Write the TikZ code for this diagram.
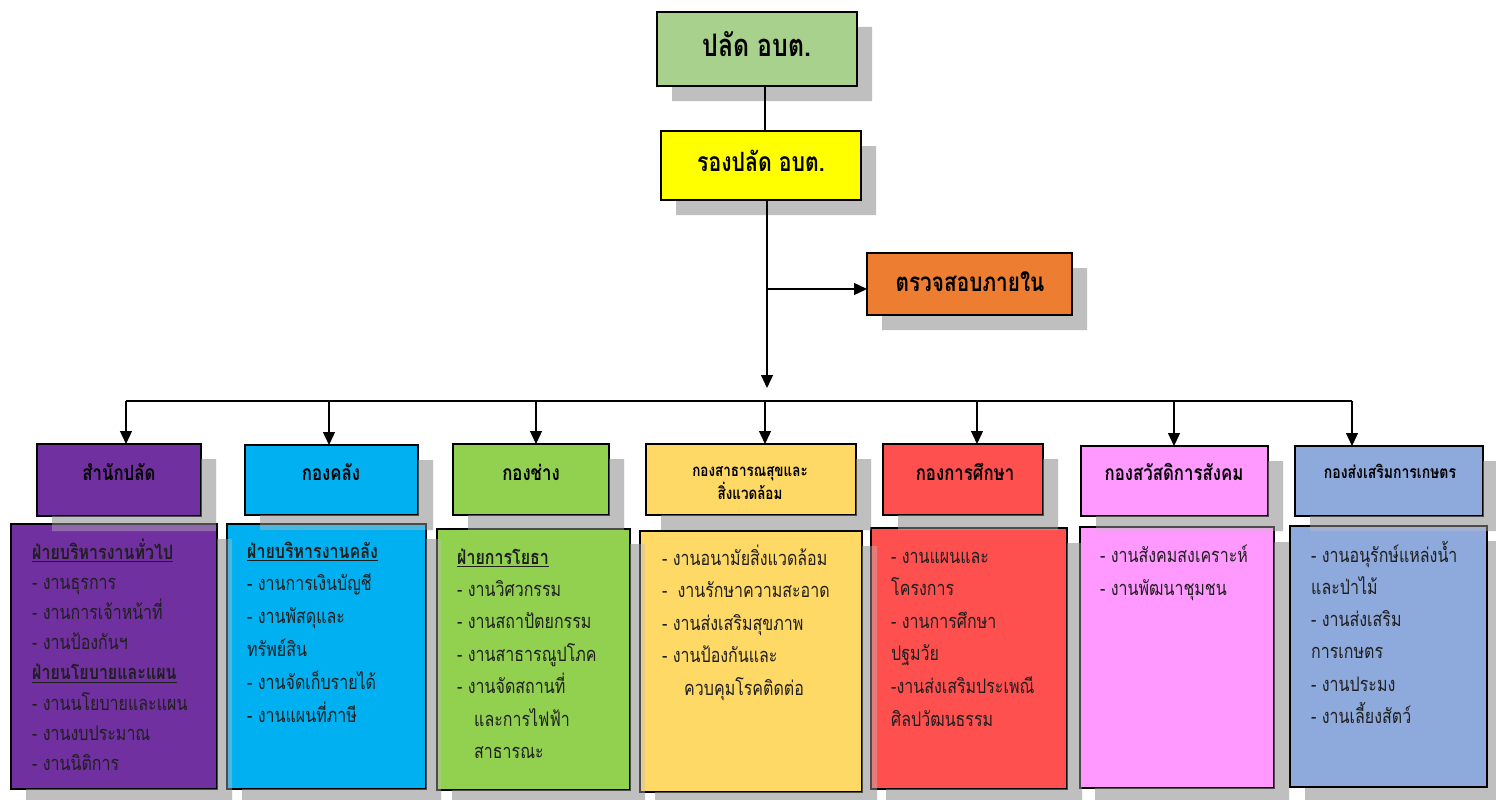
\documentclass[tikz,border=0pt]{standalone}
\usepackage{fontspec}
\setmainfont[Script=Thai, FakeStretch=0.8]{Loma}
\usetikzlibrary{arrows.meta,calc}
\definecolor{cTop}{HTML}{A9D18E}
\definecolor{cDep}{HTML}{FFFF00}
\definecolor{cAud}{HTML}{ED7D31}
\definecolor{cPur}{HTML}{7030A0}
\definecolor{cCya}{HTML}{00B0F0}
\definecolor{cGrn}{HTML}{92D050}
\definecolor{cGld}{HTML}{FFD966}
\definecolor{cRed}{HTML}{FF5050}
\definecolor{cPnk}{HTML}{FF99FF}
\definecolor{cBlu}{HTML}{8EA9DB}
\definecolor{shadowc}{HTML}{BFBFBF}
\pgfdeclarelayer{bg}\pgfdeclarelayer{fg}\pgfsetlayers{bg,main,fg}
\newcommand\myul[1]{{\setbox0\hbox{#1}\rlap{\rule[-3pt]{\wd0}{1.3pt}}\box0}}
\newcommand\dropL[2][]{\fill[shadowc,#1] ([shift={(0,15)}]#2.north east) -- ([shift={(15,15)}]#2.north east) -- ([shift={(15,15)}]#2.south east) -- ([shift={(15,15)}]#2.south west) -- ([shift={(15,0)}]#2.south west) -- (#2.south east) -- cycle;}
\newcommand\bodylines[5]{\foreach \t [count=\i from 0] in {#5} {\node[btext] (#1l\i) at (#2, #3+#4*\i) {\t};}}
\begin{document}
\begin{tikzpicture}[x=1pt,y=-1pt,
 box/.style={rectangle, draw=black, line width=2.4pt, anchor=north west, inner sep=0pt, outer sep=0pt},
 arr/.style={line width=1.3pt, -{Triangle[length=13pt,width=12pt]}},
 ln/.style={line width=1.3pt},
 btext/.style={anchor=base west, inner sep=0pt, font=\fontsize{20}{24}\selectfont, text=black!88},
 htext/.style={anchor=base, inner sep=0pt, font=\bfseries\fontsize{21}{25}\selectfont},
]
\useasboundingbox (0,0) rectangle (1496,800);
% top boxes
\node[box, fill=cTop, minimum width=200, minimum height=74] (top) at (657,12) {};
\node[box, fill=cDep, minimum width=200, minimum height=69] (deputy) at (661,131) {};
\node[box, fill=cAud, minimum width=205, minimum height=62] (audit) at (867,253) {};
% headers
\node[box, fill=cPur, minimum width=164, minimum height=72] (h1) at (37,444) {};
\node[box, fill=cCya, minimum width=173, minimum height=70] (h2) at (245,445) {};
\node[box, fill=cGrn, minimum width=156, minimum height=71] (h3) at (453,444) {};
\node[box, fill=cGld, minimum width=210, minimum height=71] (h4) at (646,444) {};
\node[box, fill=cRed, minimum width=160, minimum height=71] (h5) at (883,444) {};
\node[box, fill=cPnk, minimum width=187, minimum height=70] (h6) at (1081,446) {};
\node[box, fill=cBlu, minimum width=188, minimum height=70] (h7) at (1295,446) {};
% bodies
\node[box, fill=cPur, minimum width=206, minimum height=265] (b1) at (11,524) {};
\node[box, fill=cCya, minimum width=199, minimum height=265] (b2) at (227,524) {};
\node[box, fill=cGrn, minimum width=193, minimum height=261] (b3) at (437,529) {};
\node[box, fill=cGld, minimum width=222, minimum height=261] (b4) at (640,531) {};
\node[box, fill=cRed, minimum width=196, minimum height=261] (b5) at (871,528) {};
\node[box, fill=cPnk, minimum width=194, minimum height=261] (b6) at (1080,527) {};
\node[box, fill=cBlu, minimum width=197, minimum height=261] (b7) at (1290,526) {};
% shadows
\begin{pgfonlayer}{bg}
\foreach \n in {top,deputy,audit,h1,h2,h3,h4,h5,h6,h7,b1,b2,b3,b4,b5,b6,b7} {\dropL{\n}}
\end{pgfonlayer}
\begin{pgfonlayer}{fg}
\foreach \n in {h1,h2,h3,h4,h5,h6,h7,b1,b2,b3,b4,b5,b6} {\dropL[fill opacity=0.4]{\n}}
\end{pgfonlayer}
% top texts
\node[htext, font=\bfseries\fontsize{31}{36}\selectfont] (topt) at (757,57) {ปลัด อบต.};
\node[htext, font=\bfseries\fontsize{26.5}{31}\selectfont] (deputyt) at (761,171) {รองปลัด อบต.};
\node[htext, font=\bfseries\fontsize{26}{31}\selectfont] (auditt) at (970,291) {ตรวจสอบภายใน};
% header texts
\node[htext] (h1t) at (119,480) {สำนักปลัด};
\node[htext] (h2t) at (331,480) {กองคลัง};
\node[htext] (h3t) at (531,480) {กองช่าง};
\node[htext, font=\bfseries\fontsize{16.8}{20}\selectfont] (h4ta) at (750,476) {กองสาธารณสุขและ};
\node[htext, font=\bfseries\fontsize{16.8}{20}\selectfont] (h4tb) at (750,499) {สิ่งแวดล้อม};
\node[htext] (h5t) at (965,480) {กองการศึกษา};
\node[htext] (h6t) at (1174,480) {กองสวัสดิการสังคม};
\node[htext, font=\bfseries\fontsize{17.5}{21}\selectfont] (h7t) at (1390,478) {กองส่งเสริมการเกษตร};
% body texts
\bodylines{b1}{32}{559}{30.2}{{\bfseries\myul{ฝ่ายบริหารงานทั่วไป}}, - งานธุรการ, - งานการเจ้าหน้าที่, - งานป้องกันฯ, {\bfseries\myul{ฝ่ายนโยบายและแผน}}, - งานนโยบายและแผน, - งานงบประมาณ, - งานนิติการ}
\bodylines{b2}{247}{558}{32.8}{{\bfseries\myul{ฝ่ายบริหารงานคลัง}}, - งานการเงินบัญชี, - งานพัสดุและ, ทรัพย์สิน, - งานจัดเก็บรายได้, - งานแผนที่ภาษี}
\bodylines{b3}{457}{564}{32.4}{{\bfseries\myul{ฝ่ายการโยธา}}, - งานวิศวกรรม, - งานสถาปัตยกรรม, - งานสาธารณูปโภค, - งานจัดสถานที่, {\hspace*{17pt}และการไฟฟ้า}, {\hspace*{17pt}สาธารณะ}}
\bodylines{b4}{662}{565}{32.5}{- งานอนามัยสิ่งแวดล้อม, {-\hspace*{10pt}งานรักษาความสะอาด}, - งานส่งเสริมสุขภาพ, - งานป้องกันและ, {\hspace*{22pt}ควบคุมโรคติดต่อ}}
\bodylines{b5}{891}{563}{32.6}{- งานแผนและ, โครงการ, - งานการศึกษา, ปฐมวัย, -งานส่งเสริมประเพณี, ศิลปวัฒนธรรม}
\bodylines{b6}{1100}{562}{33}{- งานสังคมสงเคราะห์, - งานพัฒนาชุมชน}
\bodylines{b7}{1311}{562}{32.3}{- งานอนุรักษ์แหล่งน้ำ, และป่าไม้, - งานส่งเสริม, การเกษตร, - งานประมง, - งานเลี้ยงสัตว์}
% connectors
\coordinate (j1) at (765,0);
\coordinate (mainend) at (767,388);
\coordinate (br) at (767,289);
\draw[ln] (top.south -| j1) -- (deputy.north -| j1);
\draw[arr] (deputy.south -| mainend) -- (mainend);
\draw[arr] (br) -- (audit.west |- br);
\coordinate (bL) at (126,401);
\coordinate (bR) at (1352,401);
\draw[ln] (bL) -- (bR);
\foreach \x/\h in {126/h1,329/h2,536/h3,765/h4,977/h5,1174/h6,1352/h7} {
  \coordinate (d\h) at (\x,401);
  \draw[arr] (d\h) -- (d\h |- \h.north);
}
\end{tikzpicture}
\end{document}
